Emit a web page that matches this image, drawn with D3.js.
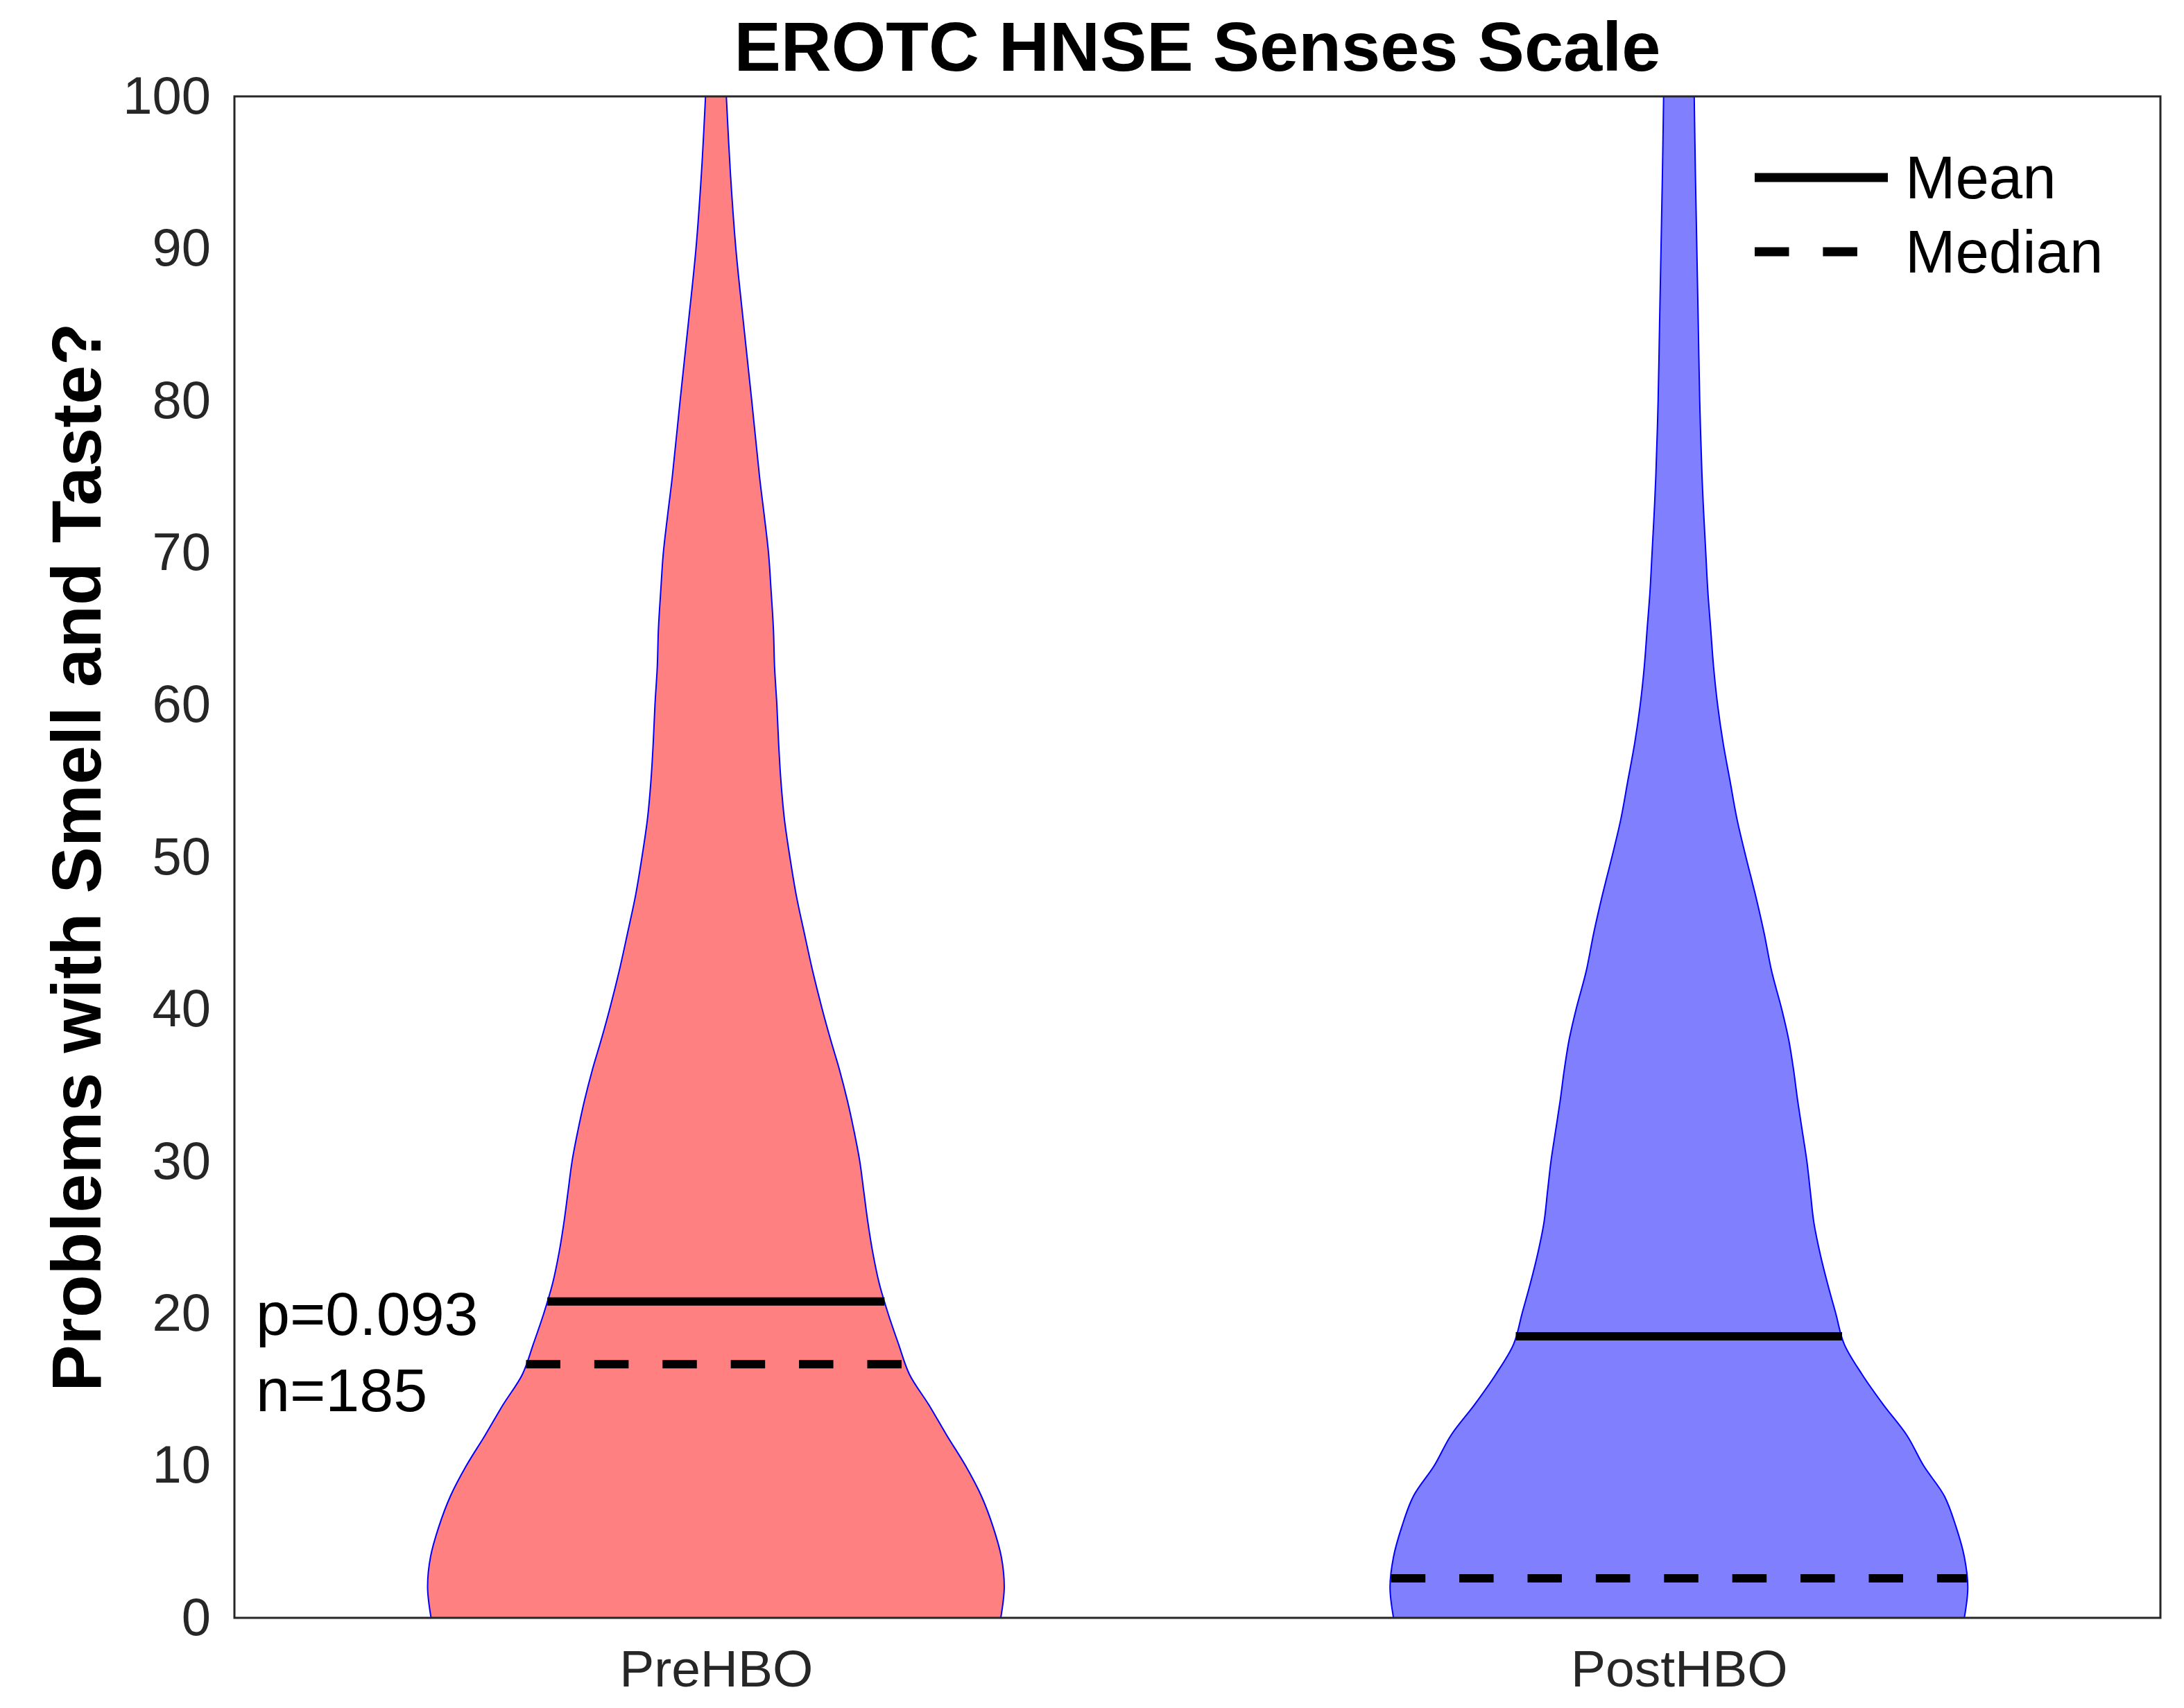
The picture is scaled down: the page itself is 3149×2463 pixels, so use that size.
<!DOCTYPE html>
<html>
<head>
<meta charset="utf-8">
<script src="https://cdn.jsdelivr.net/npm/d3@7"></script>
<style>
body { margin: 0; background: #fff; }
text { font-family: "Liberation Sans", Arial, Helvetica, sans-serif; }
</style>
</head>
<body>
<svg id="chart"></svg>
<script>
// groups and colours
var groups = ["PreHBO", "PostHBO"]
var groupColors = ["#ff8080", "#8080ff"]

// score values where the violin outline was read
var scoreGrid = [0, 2, 4, 6, 8, 10, 12, 14, 16, 18, 20, 22, 24, 26, 28, 30, 32, 34, 36, 38, 40,
                 42.5, 45, 47.5, 50, 52.5, 55, 57.5, 60, 62.5, 65, 67.5, 70, 72.5, 75, 80, 85, 90, 95, 100]

// relative density (1 = widest part of the violin)
var preDensity = [0.986, 0.998, 0.988, 0.959, 0.919, 0.864, 0.799, 0.737, 0.670, 0.632, 0.596, 0.565,
                  0.543, 0.526, 0.512, 0.498, 0.478, 0.455, 0.428, 0.397, 0.368, 0.335, 0.306, 0.278,
                  0.256, 0.237, 0.225, 0.217, 0.211, 0.203, 0.199, 0.191, 0.182, 0.167, 0.151, 0.124,
                  0.096, 0.069, 0.050, 0.036]
var postDensity = [0.988, 1.0, 0.988, 0.959, 0.919, 0.847, 0.789, 0.708, 0.634, 0.572, 0.543, 0.514,
                   0.488, 0.467, 0.455, 0.443, 0.427, 0.411, 0.397, 0.380, 0.356, 0.321, 0.295, 0.265,
                   0.232, 0.201, 0.177, 0.153, 0.134, 0.120, 0.110, 0.100, 0.093, 0.086, 0.080, 0.072,
                   0.067, 0.062, 0.057, 0.053]

var means = [20.8, 18.5]
var medians = [16.67, 2.6]
var yTicks = [0, 10, 20, 30, 40, 50, 60, 70, 80, 90, 100]
var statLabels = ["p=0.093", "n=185"]
var legendLabels = ["Mean", "Median"]

// Set up SVG dimensions
const W = 3149, H = 2463
const margin = { top: 139, right: 34, bottom: 130, left: 338 }
const violinWidth = 0.3

const svg = d3.select("#chart")
    .attr("width", W)
    .attr("height", H)

svg.append("rect").attr("width", W).attr("height", H).attr("fill", "#fff")

// scales
const x = d3.scaleLinear()
    .domain([0.5, 2.5])
    .range([margin.left, W - margin.right])
const y = d3.scaleLinear()
    .domain([0, 100])
    .range([H - margin.bottom, margin.top])

svg.append("clipPath").attr("id", "plotClip")
    .append("rect")
    .attr("x", margin.left).attr("y", margin.top)
    .attr("width", W - margin.left - margin.right)
    .attr("height", H - margin.top - margin.bottom)

const plot = svg.append("g").attr("clip-path", "url(#plotClip)")

const densities = [preDensity, postDensity]

densities.forEach(function (dens, i) {
    const c = i + 1
    const rows = scoreGrid.map((v, k) => ({ v: v, d: dens[k] }))

    // violin body
    const area = d3.area()
        .y(d => y(d.v))
        .x0(d => x(c - violinWidth * d.d))
        .x1(d => x(c + violinWidth * d.d))
        .curve(d3.curveCatmullRom.alpha(0.5))

    plot.append("path")
        .datum(rows)
        .attr("d", area)
        .attr("fill", groupColors[i])
        .attr("stroke", "#0000ff")
        .attr("stroke-width", 2)

    // width of the violin at a given score
    const widthAt = d3.scaleLinear().domain(scoreGrid).range(dens)

    // mean line
    plot.append("line")
        .attr("x1", x(c - violinWidth * widthAt(means[i])))
        .attr("x2", x(c + violinWidth * widthAt(means[i])))
        .attr("y1", y(means[i])).attr("y2", y(means[i]))
        .attr("stroke", "#000").attr("stroke-width", 12)

    // median line
    plot.append("line")
        .attr("x1", x(c - violinWidth * widthAt(medians[i])))
        .attr("x2", x(c + violinWidth * widthAt(medians[i])))
        .attr("y1", y(medians[i])).attr("y2", y(medians[i]))
        .attr("stroke", "#000").attr("stroke-width", 12)
        .attr("stroke-dasharray", "49.5,48.9")
})

// y axis
const yAxis = svg.append("g")
    .attr("transform", `translate(${margin.left},0)`)
    .call(d3.axisLeft(y).tickValues(yTicks).tickSize(0).tickPadding(34))
yAxis.select(".domain").remove()
yAxis.selectAll("text")
    .attr("font-family", "'Liberation Sans', Arial, Helvetica, sans-serif")
    .attr("font-size", 76)
    .attr("fill", "#262626")

// x axis
const xAxis = svg.append("g")
    .attr("transform", `translate(0,${H - margin.bottom})`)
    .call(d3.axisBottom(x).tickValues([1, 2]).tickFormat(d => groups[d - 1]).tickSize(0).tickPadding(46))
xAxis.select(".domain").remove()
xAxis.selectAll("text")
    .attr("font-family", "'Liberation Sans', Arial, Helvetica, sans-serif")
    .attr("font-size", 75)
    .attr("fill", "#262626")

// axes box
svg.append("rect")
    .attr("x", margin.left).attr("y", margin.top)
    .attr("width", W - margin.left - margin.right)
    .attr("height", H - margin.top - margin.bottom)
    .attr("fill", "none")
    .attr("stroke", "#262626")
    .attr("stroke-width", 3)

// title
svg.append("text")
    .attr("x", (margin.left + W - margin.right) / 2)
    .attr("y", 102)
    .attr("text-anchor", "middle")
    .attr("font-weight", "bold")
    .attr("font-size", 101)
    .text("EROTC HNSE Senses Scale")

// y-axis label
svg.append("text")
    .attr("transform", `translate(145,${(margin.top + H - margin.bottom) / 2}) rotate(-90)`)
    .attr("text-anchor", "middle")
    .attr("font-weight", "bold")
    .attr("font-size", 101)
    .text("Problems with Smell and Taste?")

// p value and n
svg.append("text").attr("x", 369).attr("y", 1925).attr("font-size", 88).text(statLabels[0])
svg.append("text").attr("x", 369).attr("y", 2035).attr("font-size", 88).text(statLabels[1])

// legend
const legend = svg.append("g")
legendLabels.forEach(function (lab, i) {
    const ly = 256 + i * 107
    legend.append("line")
        .attr("x1", 2530).attr("x2", 2722)
        .attr("y1", ly).attr("y2", ly)
        .attr("stroke", "#000").attr("stroke-width", 13)
        .attr("stroke-dasharray", i == 1 ? "49.5,48.9" : null)
    legend.append("text")
        .attr("x", 2747).attr("y", ly)
        .attr("dy", "0.35em")
        .attr("font-size", 87)
        .text(lab)
})
</script>
</body>
</html>
